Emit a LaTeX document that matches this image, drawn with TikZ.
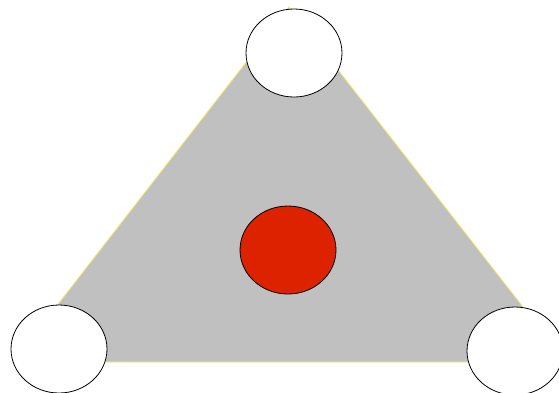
\documentclass[tikz,border=0pt]{standalone}
\usetikzlibrary{shapes.geometric}
\definecolor{trigray}{HTML}{C0C0C0}
\definecolor{triedge}{HTML}{F2EE6A}
\definecolor{dotred}{HTML}{DD2200}
\tikzset{
  vertexnode/.style={ellipse, draw=black, line width=0.8pt, fill=white, minimum width=96pt, minimum height=88pt, inner sep=0pt},
  centernode/.style={ellipse, draw=black, line width=0.8pt, fill=dotred, minimum width=96pt, minimum height=88pt, inner sep=0pt},
  trianglefill/.style={fill=trigray, draw=triedge, line width=0.8pt}
}
\begin{document}
\begin{tikzpicture}[x=1pt,y=-1pt]
\clip (0,0) rectangle (559,392);
\useasboundingbox (0,0) rectangle (559,392);
\coordinate (ta) at (289,7);
\coordinate (tb) at (13,362);
\coordinate (tc) at (566,362);
\filldraw[trianglefill] (ta) -- (tb) -- (tc) -- cycle;
\node[centernode] (center) at (288,250) {};
\node[vertexnode] (top) at (294,53) {};
\node[vertexnode] (left) at (59,349) {};
\node[vertexnode] (right) at (515,351) {};
\end{tikzpicture}
\end{document}
